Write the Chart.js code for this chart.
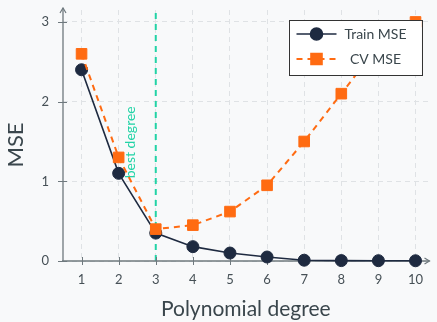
<!DOCTYPE html>
<html>
<head>
<meta charset="utf-8">
<script src="https://cdn.jsdelivr.net/npm/chart.js@4.4.1/dist/chart.umd.min.js"></script>
<style>
  html, body { margin: 0; padding: 0; background: #f8f9fa; }
  #wrap { width: 437px; height: 322px; }
</style>
</head>
<body>
<div id="wrap"><canvas id="c" width="437" height="322"></canvas></div>
<script>
// Model complexity vs. error
const degrees  = [1, 2, 3, 4, 5, 6, 7, 8, 9, 10];
const trainMse = [2.4, 1.1, 0.35, 0.18, 0.1, 0.05, 0.01, 0.005, 0.004, 0.003];
const cvMse    = [2.6, 1.3, 0.4, 0.45, 0.62, 0.95, 1.5, 2.1, 2.7, 3.0];
const xTicks   = [1, 2, 3, 4, 5, 6, 7, 8, 9, 10];
const yTicks   = [0, 1, 2, 3];
const seriesNames = ['Train MSE', 'CV MSE'];
const bestDegree = 3;
const bestLabel = 'best degree';
const xTitle = 'Polynomial degree';
const yTitle = 'MSE';

const FONT = 'Lato, "DejaVu Sans", sans-serif';
const NAVY = '#1e2a40';
const ORANGE = '#ff6b12';
const TEAL = '#22d3a6';
const AXIS = '#6f797e';
const TEXT = '#3a464c';
const BG = '#f8f9fa';

const toPoints = ys => degrees.map((d, i) => ({ x: d, y: ys[i] }));

const background = {
  id: 'background',
  beforeDraw(chart) {
    const ctx = chart.ctx;
    ctx.save();
    ctx.fillStyle = BG;
    ctx.fillRect(0, 0, chart.width, chart.height);
    ctx.restore();
  }
};

// axis lines with arrow tips, tick marks and the best-degree marker
const axesAndMarker = {
  id: 'axesAndMarker',
  beforeDatasetsDraw(chart) {
    const { ctx, chartArea: a, scales: { x, y } } = chart;
    ctx.save();

    // best degree vertical line + label
    const bx = x.getPixelForValue(bestDegree);
    ctx.strokeStyle = TEAL;
    ctx.lineWidth = 2;
    ctx.setLineDash([6, 5]);
    ctx.beginPath();
    ctx.moveTo(bx, y.getPixelForValue(0));
    ctx.lineTo(bx, a.top);
    ctx.stroke();
    ctx.setLineDash([]);

    ctx.save();
    ctx.translate(x.getPixelForValue(2.31), y.getPixelForValue(1.49));
    ctx.rotate(-Math.PI / 2);
    ctx.fillStyle = TEAL;
    ctx.font = '14px ' + FONT;
    ctx.textAlign = 'center';
    ctx.textBaseline = 'middle';
    ctx.fillText(bestLabel, 0, 0);
    ctx.restore();

    // axis lines
    const x0 = a.left, y0 = y.getPixelForValue(0);
    ctx.strokeStyle = AXIS;
    ctx.lineWidth = 1.3;
    ctx.beginPath();
    ctx.moveTo(x0, y0);
    ctx.lineTo(x0, a.top - 2);
    ctx.moveTo(x0 - 1, y0);
    ctx.lineTo(a.right + 1, y0);
    ctx.stroke();

    // arrow tips
    ctx.lineWidth = 1.2;
    ctx.beginPath();
    ctx.moveTo(x0 - 3, a.top + 3);
    ctx.lineTo(x0, a.top - 2);
    ctx.lineTo(x0 + 3, a.top + 3);
    ctx.moveTo(a.right - 4, y0 - 3);
    ctx.lineTo(a.right + 1, y0);
    ctx.lineTo(a.right - 4, y0 + 3);
    ctx.stroke();

    // tick marks
    ctx.lineWidth = 1;
    ctx.beginPath();
    yTicks.forEach(v => {
      const py = Math.round(y.getPixelForValue(v)) + 0.5;
      ctx.moveTo(x0 - 5, py);
      ctx.lineTo(x0 + 4, py);
    });
    xTicks.forEach(v => {
      const px = Math.round(x.getPixelForValue(v)) + 0.5;
      ctx.moveTo(px, y0 - 4);
      ctx.lineTo(px, y0 + 4);
    });
    ctx.stroke();
    ctx.restore();
  }
};

// boxed legend in the upper right of the plot + vertical axis title
const legendBox = {
  id: 'legendBox',
  afterDraw(chart) {
    const { ctx, chartArea: a } = chart;
    ctx.save();

    ctx.translate(16, 145);
    ctx.rotate(-Math.PI / 2);
    ctx.fillStyle = TEXT;
    ctx.font = '22px ' + FONT;
    ctx.textAlign = 'center';
    ctx.textBaseline = 'middle';
    ctx.fillText(yTitle, 0, 0);
    ctx.setTransform(1, 0, 0, 1, 0, 0);

    const w = 133, h = 55;
    const bx = a.right - 7 - w, by = a.top + 10;
    ctx.fillStyle = '#ffffff';
    ctx.fillRect(bx, by, w, h);
    ctx.strokeStyle = '#333333';
    ctx.lineWidth = 1;
    ctx.strokeRect(Math.round(bx) + 0.5, Math.round(by) + 0.5, w, h);

    chart.data.datasets.forEach((ds, i) => {
      const ry = by + 14 + i * 25;
      const sx = bx + 8, ex = bx + 48, mx = bx + 28;
      ctx.strokeStyle = ds.borderColor;
      ctx.lineWidth = ds.borderWidth;
      ctx.setLineDash(ds.borderDash || []);
      ctx.beginPath();
      ctx.moveTo(sx, ry);
      ctx.lineTo(ex, ry);
      ctx.stroke();
      ctx.setLineDash([]);
      ctx.fillStyle = ds.pointBackgroundColor;
      ctx.strokeStyle = ds.pointBackgroundColor;
      Chart.helpers.drawPoint(ctx, {
        pointStyle: ds.pointStyle, rotation: 0, borderWidth: 1,
        radius: ds.pointRadius
      }, mx, ry);
      ctx.fillStyle = TEXT;
      ctx.font = '14px ' + FONT;
      ctx.textAlign = 'center';
      ctx.textBaseline = 'middle';
      ctx.fillText(ds.label, bx + 87, ry);
    });
    ctx.restore();
  }
};

new Chart(document.getElementById('c'), {
  type: 'line',
  data: {
    datasets: [
      {
        label: seriesNames[0],
        data: toPoints(trainMse),
        borderColor: NAVY,
        borderWidth: 1.6,
        pointStyle: 'circle',
        pointRadius: 6,
        pointBackgroundColor: NAVY,
        pointBorderColor: NAVY,
        pointBorderWidth: 1,
        tension: 0,
        clip: false,
        order: 1
      },
      {
        label: seriesNames[1],
        data: toPoints(cvMse),
        borderColor: ORANGE,
        borderWidth: 2,
        borderDash: [6, 5],
        pointStyle: 'rect',
        pointRadius: 7.5,
        pointBackgroundColor: ORANGE,
        pointBorderColor: ORANGE,
        pointBorderWidth: 1,
        tension: 0,
        clip: false,
        order: 0
      }
    ]
  },
  options: {
    responsive: false,
    animation: false,
    layout: { padding: { top: 10, right: 5, left: 0, bottom: 0 } },
    plugins: { legend: { display: false }, tooltip: { enabled: false } },
    scales: {
      x: {
        type: 'linear',
        min: 0.5,
        max: 10.35,
        afterBuildTicks: s => { s.ticks = xTicks.map(v => ({ value: v })); },
        afterFit: s => { s.height = 61; s.paddingLeft = 0; s.paddingRight = 0; },
        grid: { color: '#dfe2e5', lineWidth: 1, drawTicks: false },
        border: { display: false, dash: [5, 4] },
        ticks: { padding: 11, color: '#465056', font: { family: FONT, size: 13 }, maxRotation: 0,
                 callback: v => String(v) },
        title: { display: true, text: xTitle, color: TEXT, font: { family: FONT, size: 21 },
                 padding: { top: 0, bottom: 0 } }
      },
      y: {
        min: 0,
        max: 3.15,
        afterBuildTicks: s => { s.ticks = yTicks.map(v => ({ value: v })); },
        afterFit: s => { s.width = 63; s.paddingTop = 0; s.paddingBottom = 0; },
        grid: { color: '#dfe2e5', lineWidth: 1, drawTicks: false },
        border: { display: false, dash: [5, 4] },
        ticks: { padding: 14, color: '#465056', font: { family: FONT, size: 13 },
                 callback: v => String(v) }
      }
    }
  },
  plugins: [background, axesAndMarker, legendBox]
});
</script>
</body>
</html>
